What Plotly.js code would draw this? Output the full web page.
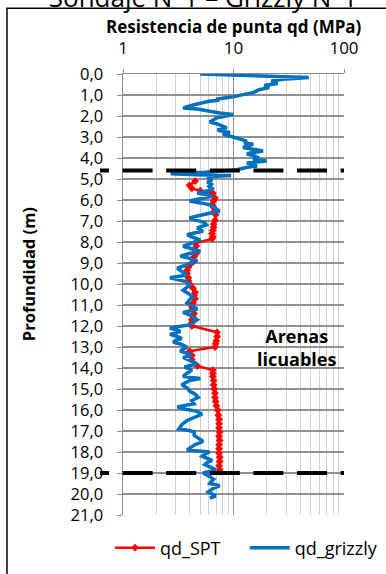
<!DOCTYPE html>
<html>
<head>
<meta charset="utf-8">
<script src="https://cdn.plot.ly/plotly-3.0.1.min.js"></script>
<style>html,body{margin:0;padding:0;background:#fff;}#chart{width:386px;height:574px;}</style>
</head>
<body>
<div id="chart"></div>
<script>
// qd_grizzly: depth (m) and tip resistance (MPa)
var grizzlyDepth = [0.00,0.17,0.25,0.33,0.45,0.55,0.65,0.75,0.89,1.00,1.10,1.20,1.25,1.30,1.38,1.45,1.55,1.62,1.67,1.76,1.86,1.93,2.00,2.10,2.20,2.29,2.38,2.47,2.56,2.65,2.71,2.78,2.86,2.95,3.05,3.12,3.20,3.28,3.35,3.43,3.50,3.58,3.67,3.75,3.81,3.90,4.00,4.07,4.14,4.24,4.31,4.38,4.45,4.50,4.56,4.62,4.68,4.75,4.80,4.83,4.88,4.95,5.05,5.15,5.25,5.35,5.45,5.56,5.67,5.81,5.93,6.05,6.15,6.23,6.35,6.45,6.52,6.62,6.75,6.86,6.98,7.08,7.18,7.33,7.42,7.49,7.57,7.65,7.78,7.90,8.05,8.20,8.32,8.44,8.55,8.67,8.78,8.90,9.05,9.25,9.40,9.57,9.70,9.80,9.90,10.05,10.18,10.30,10.45,10.60,10.75,10.90,11.05,11.20,11.35,11.50,11.70,11.85,11.95,12.05,12.10,12.20,12.27,12.35,12.40,12.50,12.60,12.68,12.76,12.88,13.00,13.10,13.20,13.30,13.40,13.50,13.65,13.80,13.95,14.05,14.10,14.25,14.40,14.50,14.60,14.80,14.95,15.10,15.25,15.40,15.55,15.70,15.85,15.95,16.05,16.20,16.35,16.50,16.70,16.90,16.98,17.05,17.20,17.35,17.50,17.65,17.80,17.90,18.00,18.10,18.20,18.30,18.40,18.50,18.60,18.72,18.85,18.93,19.00,19.15,19.30,19.40,19.50,19.60,19.75,19.90,20.00,20.10,20.20];
var grizzlyQd = [5.0,48,28,22,25,19,21,17,15,12,9.5,7.0,7.4,6.0,5.0,4.5,3.8,3.5,4.7,5.7,7.5,9.9,8.7,7.0,6.5,6.1,7.1,7.8,8.7,7.2,7.5,9.3,8.0,9.2,10.7,12,13.2,12.5,15.1,13,12.2,15,18.5,14.5,13.2,15.5,17,15,20,13.2,14.5,16.3,13,12.2,10.7,8,5.5,2.7,4.5,9.5,6.3,6.0,6.4,5.8,6.3,6.0,6.4,5.9,4.7,6.5,5.0,4.0,5.2,6.1,6.8,7.0,7.5,6.0,4.8,4.0,4.8,5.5,5.7,4.7,5.0,5.3,4.4,3.8,4.3,5.0,4.2,3.5,4.2,5.0,4.0,3.3,4.0,4.7,3.9,3.1,3.4,3.8,2.66,3.2,3.8,4.0,3.7,3.5,3.9,4.3,4.0,3.8,4.3,4.7,3.5,4.1,4.7,4.3,4.0,3.0,2.66,3.1,3.3,2.9,2.66,3.1,3.4,3.0,2.85,3.4,3.8,3.5,3.3,3.8,4.2,3.5,4.1,4.7,3.6,4.0,4.2,3.8,3.5,5.0,4.0,3.4,3.8,4.0,4.5,4.8,4.2,4.4,3.1,3.6,4.6,5.2,4.5,3.8,3.4,3.2,4.0,4.4,4.4,4.9,5.3,4.5,4.0,3.8,6.1,5.5,5.2,5.9,6.4,5.8,5.5,6.2,6.9,6.0,5.3,6.0,6.6,6.3,6.1,7.5,6.5,5.9,6.4,6.9,6.1];

// qd_SPT: depth (m) and tip resistance (MPa)
var sptDepth = [5.10,5.30,5.45,5.56,5.67,5.90,6.05,6.22,6.35,6.50,6.70,6.97,7.15,7.30,7.45,7.60,7.75,7.85,8.05,8.20,8.37,8.55,8.70,8.90,9.05,9.20,9.35,9.50,9.70,9.85,10.00,10.20,10.40,10.55,10.70,10.90,11.10,11.25,11.40,11.55,11.70,11.85,12.00,12.30,12.50,12.70,12.85,13.00,13.20,13.40,13.60,13.90,14.10,14.25,14.40,14.60,14.80,15.00,15.20,15.40,15.60,15.80,16.00,16.25,16.45,16.65,16.85,17.05,17.25,17.45,17.65,17.85,18.05,18.25,18.45,18.65,18.85,18.95];
var sptQd = [4.5,4.0,4.2,5.0,6.5,6.8,6.6,6.4,6.6,6.8,6.9,6.8,6.6,6.6,6.5,6.4,6.5,6.4,4.5,4.6,4.5,4.6,4.4,4.4,4.1,3.9,3.8,3.8,3.9,3.9,4.0,4.3,4.5,4.4,4.5,4.3,4.2,4.3,4.4,4.3,4.2,4.2,4.2,7.1,7.1,7.0,6.9,6.8,4.0,4.2,4.2,4.7,6.5,6.5,6.5,6.6,6.6,6.7,6.8,6.8,6.9,7.0,7.2,7.3,7.4,7.4,7.4,7.5,7.4,7.5,7.4,7.4,7.4,7.5,7.5,7.4,7.5,7.5];

// liquefiable sand limits (m)
var limitDepths = [4.6, 19.0];

var xTickVals = [1, 10, 100];
var xTickText = ['1', '10', '100'];
var xMinorVals = [2, 3, 4, 5, 6, 7, 8, 9, 20, 30, 40, 50, 60, 70, 80, 90];
var seriesNames = ['qd_SPT', 'qd_grizzly'];
var titleText = 'Sondaje N°1 – Grizzly N°1';
var xTitle = 'Resistencia de punta qd (MPa)';
var yTitle = 'Profundidad (m)';
var zoneLabel = 'Arenas<br>licuables';
var zoneLabelPos = {x: 37, y: 13.0};

var FONT = '"Open Sans", "Noto Sans", sans-serif';

var traces = [
  {
    x: sptQd, y: sptDepth, name: seriesNames[0], type: 'scatter', mode: 'lines+markers',
    line: {color: '#FF0000', width: 2.5},
    marker: {symbol: 'diamond', size: 6, color: '#FF0000'},
    legend: 'legend'
  },
  {
    x: grizzlyQd, y: grizzlyDepth, name: seriesNames[1], type: 'scatter', mode: 'lines',
    line: {color: '#0070C0', width: 3.5},
    legend: 'legend2'
  }
];

var shapes = limitDepths.map(function (d) {
  return {type: 'line', xref: 'paper', yref: 'y', x0: -0.104, x1: 1.0, y0: d, y1: d,
          line: {color: '#000000', width: 4,
                 dash: '9px,13.6px,30px,13.6px,30px,13.6px,30px,13.6px,30px,13.6px,30px,13.6px,30px,13.6px'},
          layer: 'above'};
});
// outer chart frame
shapes.push({type: 'rect', xref: 'paper', yref: 'paper', x0: -0.525, x1: 1.3, y0: -0.2, y1: 1.149,
             line: {color: '#000000', width: 1.5}, fillcolor: 'rgba(0,0,0,0)'});

var legendBase = {
  orientation: 'h', xref: 'container', yref: 'container',
  xanchor: 'left', y: 0.0453, yanchor: 'middle',
  font: {family: FONT, size: 18, color: '#000'}, bgcolor: 'rgba(0,0,0,0)', itemwidth: 40
};

var layout = {
  width: 386, height: 574,
  margin: {l: 123, r: 42, t: 74, b: 59, autoexpand: false},
  paper_bgcolor: '#ffffff', plot_bgcolor: '#ffffff',
  separators: ',.',
  font: {family: FONT, color: '#000000', size: 16},
  showlegend: true,
  title: {text: titleText, font: {family: FONT, size: 26, color: '#000'},
          x: 0.526, xanchor: 'center', xref: 'container', yref: 'container', y: 0.987, yanchor: 'bottom'},
  xaxis: {
    type: 'log', range: [0, 2], side: 'top',
    tickvals: xTickVals, ticktext: xTickText,
    tickfont: {family: FONT, size: 17, color: '#000'},
    ticks: 'outside', ticklen: 4, tickcolor: '#8c8c8c', ticklabelstandoff: 8,
    showgrid: true, gridcolor: '#8c8c8c', gridwidth: 1.5,
    minor: {tickvals: xMinorVals, showgrid: true, gridcolor: '#d0d0d0', gridwidth: 1, ticks: ''},
    showline: true, linecolor: '#8c8c8c', linewidth: 1.5, mirror: false,
    zeroline: false, fixedrange: true
  },
  yaxis: {
    range: [21, 0], dtick: 1, tick0: 0, tickformat: '.1f',
    tickfont: {family: FONT, size: 16.5, color: '#000'},
    ticks: 'outside', ticklen: 5, tickcolor: '#8c8c8c', ticklabelstandoff: 10,
    showgrid: true, gridcolor: '#8f8f8f', gridwidth: 1.5,
    showline: true, linecolor: '#8c8c8c', linewidth: 1.5,
    zeroline: false, fixedrange: true
  },
  legend: Object.assign({}, legendBase, {x: 0.285}),
  legend2: Object.assign({}, legendBase, {x: 0.634}),
  shapes: shapes,
  annotations: [
    {text: '<b>' + xTitle + '</b>', xref: 'paper', yref: 'paper', x: 0.5, y: 1.107,
     xanchor: 'center', yanchor: 'middle', showarrow: false,
     font: {family: FONT, size: 17, color: '#000'}},
    {text: '<b>' + yTitle + '</b>', xref: 'paper', yref: 'paper', x: -0.43, y: 0.546,
     xanchor: 'center', yanchor: 'middle', textangle: -90, showarrow: false,
     font: {family: FONT, size: 16.5, color: '#000'}},
    {text: '<b>' + zoneLabel + '</b>', xref: 'x', yref: 'y', x: Math.log10(zoneLabelPos.x), y: zoneLabelPos.y,
     xanchor: 'center', yanchor: 'middle', showarrow: false,
     font: {family: FONT, size: 18, color: '#000'}}
  ]
};

Plotly.newPlot('chart', traces, layout, {displayModeBar: false, staticPlot: true});
</script>
</body>
</html>
